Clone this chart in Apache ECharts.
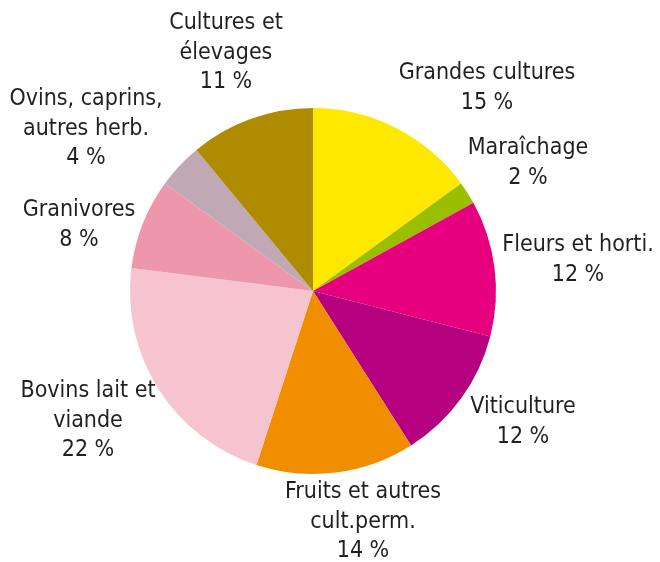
<!DOCTYPE html>
<html>
<head>
<meta charset="utf-8">
<script src="https://cdn.jsdelivr.net/npm/echarts@6/dist/echarts.min.js"></script>
<style>
  html, body { margin: 0; padding: 0; background: #fff; }
  #chart { width: 660px; height: 562px; }
</style>
</head>
<body>
<div id="chart"></div>
<script>
// categories (label lines) and shares in %
const categories = [
  "Grandes cultures",
  "Maraîchage",
  "Fleurs et horti.",
  "Viticulture",
  "Fruits et autres\ncult.perm.",
  "Bovins lait et\nviande",
  "Granivores",
  "Ovins, caprins,\nautres herb.",
  "Cultures et\nélevages"
];
const shares = [15, 2, 12, 12, 14, 22, 8, 4, 11];
const colors = ["#ffe800", "#99bf00", "#e6007e", "#b5007f", "#f18e00",
                "#f5c4cf", "#ee97ab", "#c0a9b5", "#af8b00"];

const cx = 313, cy = 291, radius = 183;
// label block centres, offset from the pie centre (px)
const labelOffset = [
  [174, -203], [215, -128], [265, -31], [210, 131], [50, 231],
  [-225, 130], [-234, -66], [-227, -162], [-87, -238]
];

const chart = echarts.init(document.getElementById("chart"));
chart.setOption({
  animation: false,
  series: [{
    type: "pie",
    center: [cx, cy],
    radius: [0, radius],
    startAngle: 90,
    clockwise: true,
    data: categories.map((name, i) => ({
      name: name,
      value: shares[i],
      itemStyle: { color: colors[i] }
    })),
    label: {
      show: true,
      position: "outside",
      formatter: p => p.name + "\n" + p.value + " %",
      fontFamily: "DejaVu Sans Condensed",
      fontSize: 23,
      lineHeight: 29.5,
      color: "#231f20",
      align: "center",
      overflow: "none"
    },
    labelLine: { show: false },
    labelLayout: function (p) {
      const o = labelOffset[p.dataIndex];
      return {
        x: cx + o[0],
        y: cy + o[1],
        align: "center",
        verticalAlign: "middle"
      };
    }
  }]
});
</script>
</body>
</html>
